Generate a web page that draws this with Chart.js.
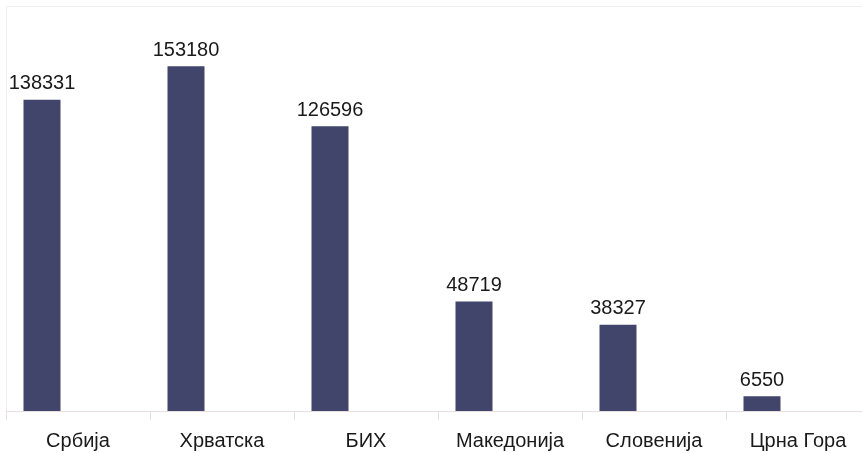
<!DOCTYPE html>
<html>
<head>
<meta charset="utf-8">
<script src="https://cdn.jsdelivr.net/npm/chart.js@4.4.1/dist/chart.umd.min.js"></script>
<style>
  html, body { margin: 0; padding: 0; background: #fff; overflow: hidden; }
  #wrap { width: 862px; height: 453px; overflow: hidden; }
</style>
</head>
<body>
<div id="wrap"><canvas id="my-canvas" width="870" height="462"></canvas></div>
<script>
const countries = ['Србија', 'Хрватска', 'БИХ', 'Македонија', 'Словенија', 'Црна Гора'];
const values = [138331, 153180, 126596, 48719, 38327, 6550];
const emptySeries = [null, null, null, null, null, null];

const BAR_COLOR = '#41456b';
const TEXT_COLOR = '#1a1a1a';
const LINE_COLOR = '#e8e0e0';

Chart.defaults.font.family = '"Liberation Sans", Arial, sans-serif';

// value labels above each bar
const valueLabels = {
  id: 'valueLabels',
  afterDatasetsDraw(chart) {
    const ctx = chart.ctx;
    const meta = chart.getDatasetMeta(0);
    ctx.save();
    ctx.font = '20px "Liberation Sans", Arial, sans-serif';
    ctx.fillStyle = TEXT_COLOR;
    ctx.textAlign = 'center';
    ctx.textBaseline = 'bottom';
    meta.data.forEach((bar, i) => {
      ctx.fillText(String(values[i]), bar.x, bar.y - 6);
    });
    ctx.restore();
  },
};

// faint frame on top and left of the plot
const frame = {
  id: 'frame',
  beforeDraw(chart) {
    const { ctx, chartArea } = chart;
    ctx.save();
    ctx.strokeStyle = '#efefef';
    ctx.lineWidth = 1;
    ctx.beginPath();
    ctx.moveTo(chartArea.left + 0.5, chartArea.bottom);
    ctx.lineTo(chartArea.left + 0.5, chartArea.top + 0.5);
    ctx.lineTo(chartArea.right, chartArea.top + 0.5);
    ctx.stroke();
    ctx.restore();
  },
};

new Chart('my-canvas', {
  type: 'bar',
  data: {
    labels: countries,
    datasets: [
      {
        label: 'Број',
        data: values,
        backgroundColor: BAR_COLOR,
        categoryPercentage: 1,
        barPercentage: 0.514,
      },
      {
        label: '',
        data: emptySeries,
        backgroundColor: 'transparent',
        categoryPercentage: 1,
        barPercentage: 0.514,
      },
    ],
  },
  options: {
    responsive: false,
    animation: false,
    layout: { padding: { left: 6, top: 6, right: 0, bottom: 0 } },
    plugins: {
      legend: { display: false },
      tooltip: { enabled: false },
    },
    scales: {
      x: {
        grid: {
          offset: true,
          drawOnChartArea: false,
          drawTicks: true,
          tickLength: 9,
          color: LINE_COLOR,
        },
        border: { display: true, color: LINE_COLOR },
        ticks: {
          color: TEXT_COLOR,
          font: { size: 20 },
          padding: 9,
          maxRotation: 0,
          autoSkip: false,
        },
      },
      y: {
        display: false,
        min: 0,
        max: 180000,
      },
    },
  },
  plugins: [frame, valueLabels],
});
</script>
</body>
</html>
